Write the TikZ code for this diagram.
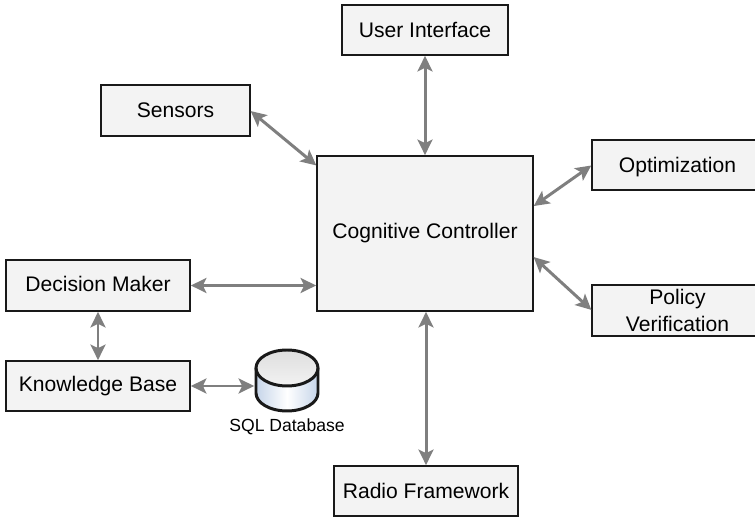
\documentclass[tikz,border=0pt]{standalone}
\usepackage{fontspec}
\setmainfont{Liberation Sans}
\usepackage{xcolor}
\usepackage{tikz}
\usetikzlibrary{arrows.meta}
\definecolor{boxfill}{HTML}{F3F3F3}
\definecolor{linkgray}{HTML}{7F7F7F}
\definecolor{dbblue}{HTML}{C6D5E9}
\tikzstyle{block}=[draw=black!90, fill=boxfill, line width=1.4, align=center, inner sep=0, outer sep=0, font=\fontsize{12}{15}\selectfont, minimum height=1cm]
\tikzstyle{link}=[<->, >={Stealth[length=3.1mm,width=3mm,inset=0.7mm]}, draw=linkgray, line width=1.7, shorten <=0.5pt, shorten >=0.5pt]
\tikzstyle{dbline}=[draw=black!90, line width=1.7]

\begin{document}
\begin{tikzpicture}
      \useasboundingbox (0, 0) rectangle (15.1, 10.34);
      \node[block, minimum width=4.32cm, minimum height=3.1cm] at (8.5, 5.67) (CC) {Cognitive Controller};
      \node[block, minimum width=3.32cm] at (8.5, 9.74) (UI) {User Interface};
      \node[block, minimum width=2.98cm, minimum height=1.02cm] at (3.51, 8.13) (SE) {Sensors};
      \node[block, minimum width=3.42cm, text depth=0] at (13.55, 7.04) (OP) {Optimization};
      \node[block, minimum width=3.42cm, minimum height=1.02cm] at (13.55, 4.13) (PV) {Policy\\Verification};
      \node[block, minimum width=3.68cm, minimum height=1.02cm, text depth=0.3ex] at (1.96, 4.63) (DM) {Decision Maker};
      \node[block, minimum width=3.68cm] at (1.96, 2.62) (KB) {Knowledge Base};
      \node[block, minimum width=3.68cm] at (8.52, 0.52) (RF) {Radio Framework};
      \coordinate (DB) at (5.74, 2.73);
      \coordinate (DBW) at (5.1, 2.73);
      \begin{scope}[shift={(DB)}]
        \shade[left color=dbblue, right color=dbblue, middle color=white] (-0.62, 0.25) -- (-0.62, -0.25) arc (180:360:0.62 and 0.36) -- (0.62, 0.25) arc (0:180:0.62 and 0.36);
        \shade[top color=black!13, bottom color=black!5] (0, 0.25) ellipse (0.62 and 0.36);
        \draw[dbline] (0, 0.25) ellipse (0.62 and 0.36);
        \draw[dbline] (-0.62, 0.25) -- (-0.62, -0.25) arc (180:360:0.62 and 0.36) -- (0.62, 0.25);
      \end{scope}
      \node[font=\fontsize{10}{12}\selectfont] at (5.74, 1.8) (SQL) {SQL Database};
      \draw[link] (UI.south) -- (CC.north);
      \draw[link] (SE.east) -- (CC.148.8);
      \draw[link] (OP.west) -- (CC.14.8);
      \draw[link] (PV.west) -- (CC.348.7);
      \draw[link] (DM.east) -- (DM.east -| CC.west);
      \draw[link] (DM.south) -- (KB.north);
      \draw[link] (KB.east) -- (KB.east -| DBW);
      \draw[link] (RF.north) -- (CC.south -| RF.north);
    \end{tikzpicture}
\end{document}
